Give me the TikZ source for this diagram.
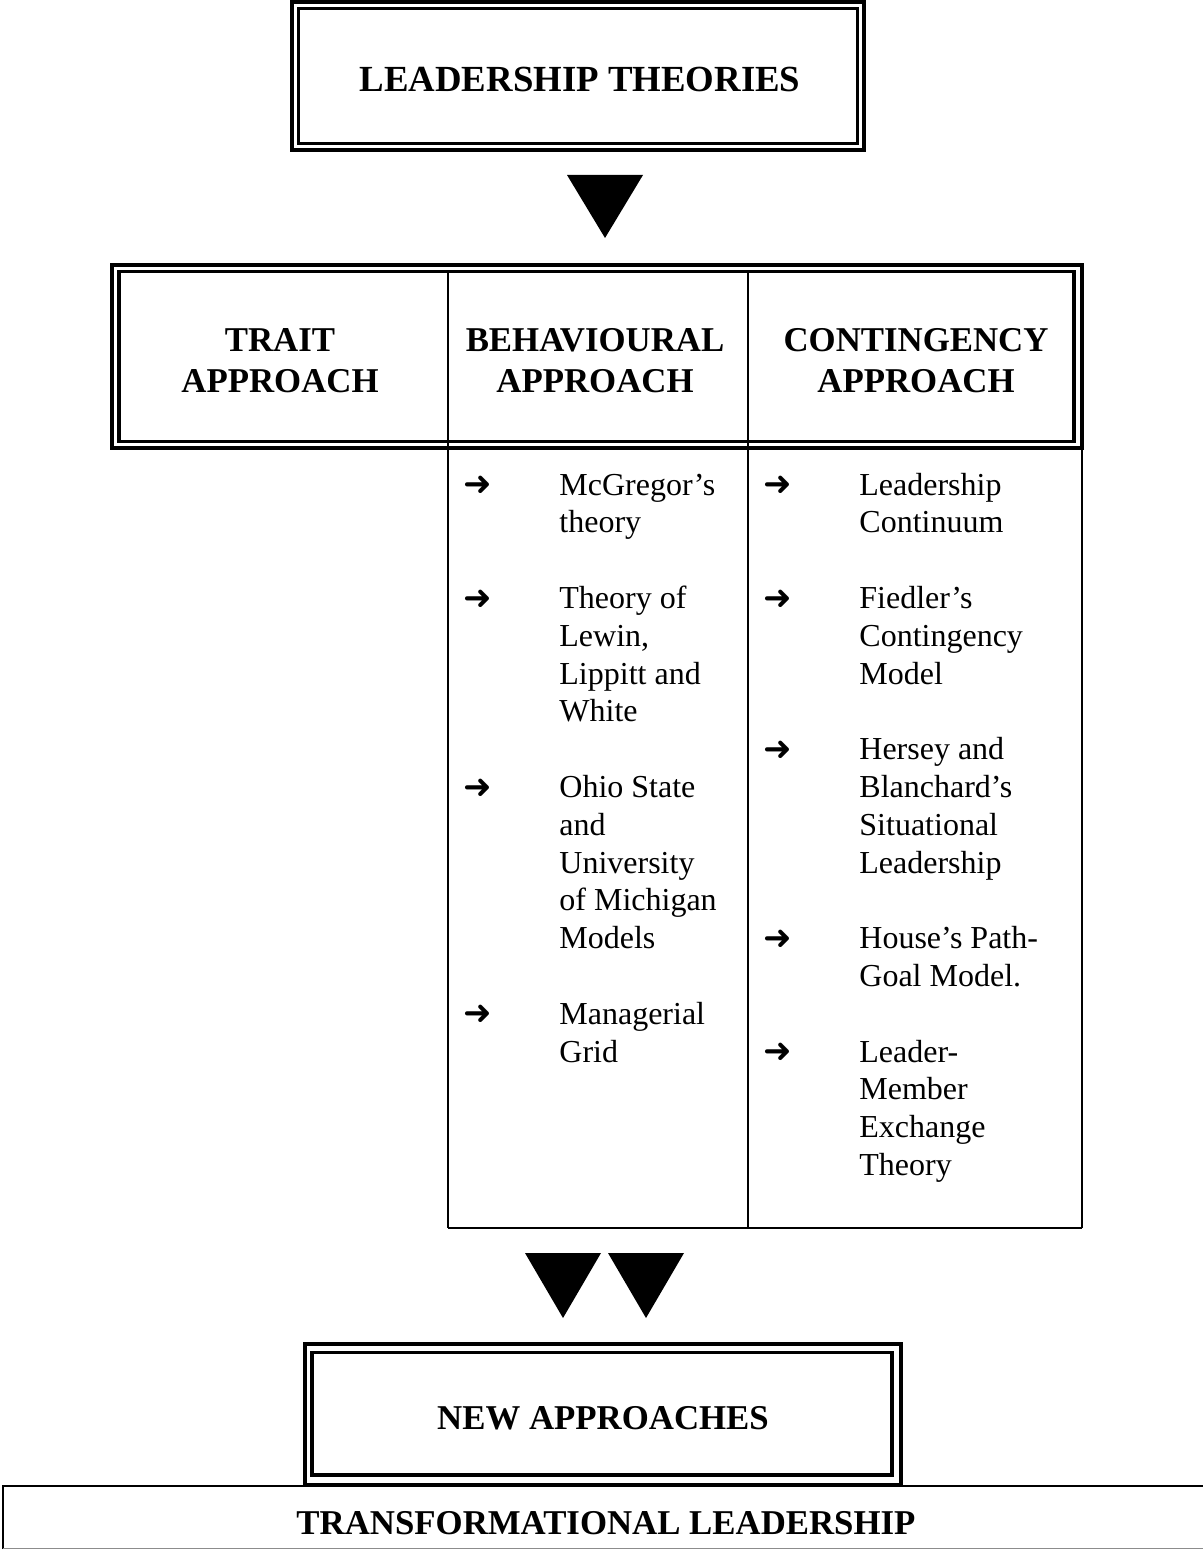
\documentclass[tikz,border=0pt]{standalone}
\usepackage{fontspec}
\setmainfont{Liberation Serif}
\newfontfamily\symfont{DejaVu Sans}
\newcommand{\leftlines}[1]{\begin{tabular}[t]{@{}l@{}}#1\end{tabular}}
\newcommand{\midlines}[1]{\begin{tabular}[t]{@{}c@{}}#1\end{tabular}}
\begin{document}
\begin{tikzpicture}[x=0.5pt,y=-0.5pt,
  outerrule/.style={line width=2pt},
  innerrule/.style={line width=1.75pt},
  cellrule/.style={line width=1pt},
  headtext/.style={inner sep=0pt,anchor=base,font=\fontsize{17.4}{20.5}\selectfont\bfseries},
  itemtext/.style={inner sep=0pt,anchor=base west,font=\fontsize{16}{18.9}\selectfont},
  bullet/.style={inner sep=0pt,anchor=center,font=\symfont\bfseries\fontsize{17}{18}\selectfont},
  pointer/.style={fill=black,draw=none}]
\useasboundingbox (0,0) rectangle (1203,1550);

% top box
\draw[outerrule] (292,2) rectangle (864,150);
\draw[innerrule] (298.5,8.5) rectangle (857.5,143.5);
\node[headtext,font=\fontsize{18.4}{20.5}\selectfont\bfseries] (title) at (580,92) {LEADERSHIP THEORIES};

% arrow head below the title
\fill[pointer] (567,175) -- (643,175) -- (605,238) -- cycle;

% header band with the three approaches
\draw[outerrule] (112,265) rectangle (1082,448.5);
\draw[innerrule] (119,271.5) rectangle (1074,441.5);
\draw[cellrule] (448,271.5) -- (448,1228);
\draw[cellrule] (748,271.5) -- (748,1228);
\draw[cellrule] (1082,448.5) -- (1082,1228);
\draw[cellrule] (448,1228) -- (1082,1228);

\node[headtext] (trait) at (280,352) {\midlines{TRAIT\\APPROACH}};
\node[headtext] (behav) at (595,352) {\midlines{BEHAVIOURAL\\APPROACH}};
\node[headtext] (cont) at (916,352) {\midlines{CONTINGENCY\\APPROACH}};

% behavioural approach items
\node[bullet] (b1) at (478,486) {➜};
\node[itemtext] (mcg) at (559,495) {\leftlines{McGregor’s\\theory}};
\node[bullet] (b2) at (478,599.4) {➜};
\node[itemtext] (lewin) at (559,608.4) {\leftlines{Theory of\\Lewin,\\Lippitt and\\White}};
\node[bullet] (b3) at (478,788.4) {➜};
\node[itemtext] (ohio) at (559,797.4) {\leftlines{Ohio State\\and\\University\\of Michigan\\Models}};
\node[bullet] (b4) at (478,1015.2) {➜};
\node[itemtext] (grid) at (559,1024.2) {\leftlines{Managerial\\Grid}};

% contingency approach items
\node[bullet] (c1) at (778,486) {➜};
\node[itemtext] (contin) at (859,495) {\leftlines{Leadership\\Continuum}};
\node[bullet] (c2) at (778,599.4) {➜};
\node[itemtext] (fiedler) at (859,608.4) {\leftlines{Fiedler’s\\Contingency\\Model}};
\node[bullet] (c3) at (778,750.6) {➜};
\node[itemtext] (hersey) at (859,759.6) {\leftlines{Hersey and\\Blanchard’s\\Situational\\Leadership}};
\node[bullet] (c4) at (778,939.6) {➜};
\node[itemtext] (house) at (859,948.6) {\leftlines{House’s Path-\\Goal Model.}};
\node[bullet] (c5) at (778,1053) {➜};
\node[itemtext] (lmx) at (859,1062) {\leftlines{Leader-\\Member\\Exchange\\Theory}};

% paired arrow heads
\fill[pointer] (525,1253) -- (601,1253) -- (563,1318) -- cycle;
\fill[pointer] (608,1253) -- (684,1253) -- (646,1318) -- cycle;

% bottom strip
\draw[line width=1.2pt] (3,1549) -- (3,1486) -- (1203,1486);
\draw[line width=0.5pt,black!45] (3,1548.5) -- (1203,1548.5);
\node[headtext] (transf) at (606,1534) {TRANSFORMATIONAL LEADERSHIP};

% new approaches box
\draw[outerrule] (305,1344) rectangle (901,1485);
\draw[innerrule] (312,1352.5) rectangle (892,1475);
\node[headtext] (newapp) at (603,1429) {NEW APPROACHES};
\end{tikzpicture}
\end{document}
